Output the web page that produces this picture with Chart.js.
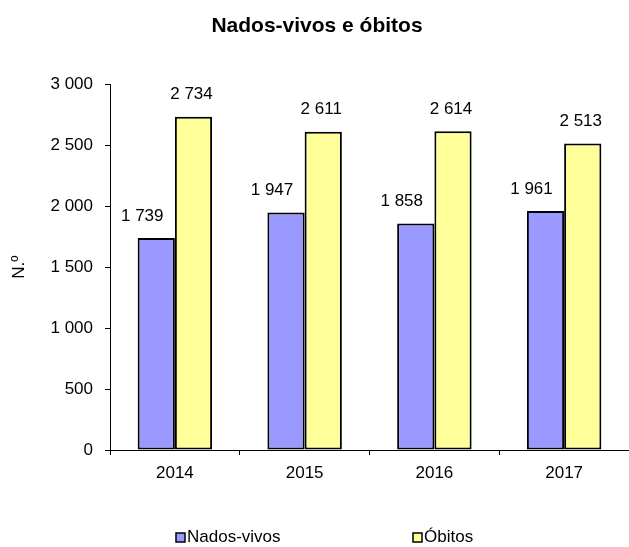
<!DOCTYPE html>
<html>
<head>
<meta charset="utf-8">
<script src="https://cdn.jsdelivr.net/npm/chart.js@4.4.1/dist/chart.umd.min.js"></script>
<style>
  html, body { margin: 0; padding: 0; background: #fff; }
  #wrap { width: 629px; height: 547px; }
</style>
</head>
<body>
<div id="wrap"><canvas id="chart" width="629" height="547"></canvas></div>
<script>
const years = ['2014', '2015', '2016', '2017'];
const nadosVivos = [1739, 1947, 1858, 1961];
const obitos = [2734, 2611, 2614, 2513];
const yTicks = [0, 500, 1000, 1500, 2000, 2500, 3000];

const FONT = "'Liberation Sans', Arial, sans-serif";

function fmt(v) {
	return String(v).replace(/\B(?=(\d{3})+(?!\d))/g, ' ');
}

// value labels above each bar, placed like the spreadsheet did
const valueLabels = {
	id: 'valueLabels',
	afterDatasetsDraw(chart) {
		let ctx = chart.ctx;
		ctx.save();
		ctx.font = '17px ' + FONT;
		ctx.fillStyle = '#000';
		ctx.textAlign = 'center';
		ctx.textBaseline = 'middle';
		chart.data.datasets.forEach((ds, i) => {
			let dx = i === 0 ? -14 : -2;
			chart.getDatasetMeta(i).data.forEach((bar, j) => {
				ctx.fillText(fmt(ds.data[j]), bar.x + dx, bar.y - 22);
			});
		});
		ctx.restore();
	}
};

// legend at the bottom with wide gap between the two entries
const bottomLegend = {
	id: 'bottomLegend',
	afterDraw(chart) {
		let ctx = chart.ctx;
		let xs = [176, 413];
		let y = 537;
		ctx.save();
		ctx.font = '17px ' + FONT;
		ctx.textBaseline = 'middle';
		ctx.textAlign = 'left';
		chart.data.datasets.forEach((ds, i) => {
			ctx.fillStyle = ds.backgroundColor;
			ctx.fillRect(xs[i], y - 4, 9, 9);
			ctx.strokeStyle = '#000';
			ctx.lineWidth = 1.5;
			ctx.strokeRect(xs[i], y - 4, 9, 9);
			ctx.fillStyle = '#000';
			ctx.fillText(ds.label, xs[i] + 11, y);
		});
		ctx.restore();
	}
};

let ctx = document.getElementById('chart').getContext('2d');

var BirthsDeathsChart = new Chart(ctx, {
	type: 'bar',
	data: {
		labels: years,
		datasets: [{
			label: 'Nados-vivos',
			data: nadosVivos,
			backgroundColor: '#9999FF',
			borderColor: '#000',
			borderWidth: 2,
			borderSkipped: false
		}, {
			label: 'Óbitos',
			data: obitos,
			backgroundColor: '#FFFF99',
			borderColor: '#000',
			borderWidth: 2,
			borderSkipped: false
		}]
	},
	options: {
		responsive: false,
		animation: false,
		layout: { padding: { left: 5, right: 0, top: 0, bottom: 0 } },
		datasets: {
			bar: { categoryPercentage: 0.574, barPercentage: 1.0 }
		},
		plugins: {
			legend: { display: false },
			tooltip: { enabled: false },
			title: {
				display: true,
				text: 'Nados-vivos e óbitos',
				color: '#000',
				font: { family: FONT, size: 21, weight: 'bold' },
				padding: { top: 14, bottom: 45 }
			}
		},
		scales: {
			x: {
				grid: { drawOnChartArea: false, drawTicks: true, tickLength: 5, color: '#000', offset: true },
				border: { color: '#000', width: 1 },
				ticks: { color: '#000', font: { family: FONT, size: 17 }, padding: 8 },
				afterFit(scale) { scale.height = 97; }
			},
			y: {
				min: 0,
				max: 3000,
				afterBuildTicks(scale) { scale.ticks = yTicks.map(v => ({ value: v })); },
				grid: { drawOnChartArea: false, drawTicks: true, tickLength: 5, color: '#000' },
				border: { color: '#000', width: 1 },
				ticks: { color: '#000', font: { family: FONT, size: 17 }, padding: 12, callback: v => fmt(v) },
				title: { display: true, text: 'N.º', color: '#000', font: { family: FONT, size: 17 }, padding: { top: 4, bottom: 4 } },
				afterFit(scale) { scale.width = 105; }
			}
		}
	},
	plugins: [valueLabels, bottomLegend]
});
</script>
</body>
</html>
